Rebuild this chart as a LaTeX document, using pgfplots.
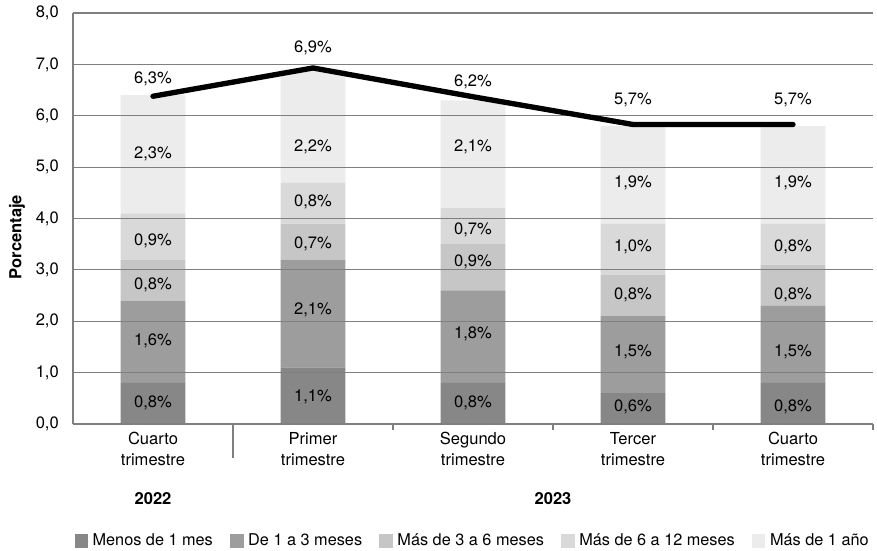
\documentclass[border=0pt]{standalone}
\usepackage{fontspec}
\setmainfont{TeX Gyre Heros}
\usepackage{pgfplots}
\usepackage{pgfplotstable}
\pgfplotsset{compat=1.18}
\definecolor{c1}{HTML}{878787}
\definecolor{c2}{HTML}{9D9D9D}
\definecolor{c3}{HTML}{C6C6C6}
\definecolor{c4}{HTML}{D9D9D9}
\definecolor{c5}{HTML}{ECECEC}
\definecolor{gridc}{HTML}{7F7F7F}
\newcommand\f{\fontsize{12.4pt}{15.75pt}\selectfont}

\pgfplotstableread{
x a b c d e
0 0.8 1.6 0.8 0.9 2.3
1 1.1 2.1 0.7 0.8 2.2
2 0.8 1.8 0.9 0.7 2.1
3 0.6 1.5 0.8 1.0 1.9
4 0.8 1.5 0.8 0.8 1.9
}\bars

\pgfplotstableread{
x y
0 6.38
1 6.93
2 6.37
3 5.83
4 5.83
}\linedata

\pgfplotstableread{
x y v
0 0.41 0.8
0 1.62 1.6
0 2.71 0.8
0 3.56 0.9
0 5.26 2.3
0 6.72 6.3
1 0.53 1.1
1 2.22 2.1
1 3.50 0.7
1 4.32 0.8
1 5.40 2.2
1 7.32 6.9
2 0.41 0.8
2 1.75 1.8
2 3.15 0.9
2 3.78 0.7
2 5.40 2.1
2 6.66 6.2
3 0.33 0.6
3 1.40 1.5
3 2.51 0.8
3 3.45 1.0
3 4.69 1.9
3 6.31 5.7
4 0.33 0.8
4 1.40 1.5
4 2.51 0.8
4 3.45 0.8
4 4.69 1.9
4 6.31 5.7
}\labels

\begin{document}
\begin{tikzpicture}
\path[use as bounding box] (0,0) rectangle (657.75pt,412.5pt);
\begin{axis}[
  ybar stacked,
  every axis plot/.append style={draw=none, legend image code/.code={\fill[##1] (0pt,-5pt) rectangle (10pt,5pt); \path (0pt,0pt) -- (11.5pt,0pt);}},
  at={(54.75pt,94.5pt)}, anchor=south west,
  scale only axis, width=600pt, height=308.25pt,
  xmin=-0.5, xmax=4.5, ymin=0, ymax=8,
  bar width=0.406,
  clip=false,
  axis on top,
  axis lines*=left,
  axis line style={gridc, line width=0.8pt},
  ytick={0,1,...,8},
  ymajorgrids, grid style={gridc, line width=0.8pt},
  yticklabel={\pgfmathprintnumber[fixed,fixed zerofill,precision=1,use comma,assume math mode=true]{\tick}},
  yticklabel style={font=\f, inner sep=0pt, xshift=-6pt},
  ytick style={draw=none},
  xtick={0.5,1.5,2.5,3.5,4.5},
  xticklabels={},
  xtick style={gridc, line width=0.8pt},
  major tick length=4.5pt,
  tick align=outside,
  extra x ticks={0,1,2,3,4},
  extra x tick labels={{Cuarto\\trimestre},{Primer\\trimestre},{Segundo\\trimestre},{Tercer\\trimestre},{Cuarto\\trimestre}},
  extra x tick style={major tick length=0pt, grid=none, xticklabel style={font=\f, align=center, inner sep=0pt, yshift=-6pt}},
  ylabel={Porcentaje},
  every axis y label/.style={at={(axis description cs:0,0.455)}, xshift=-42pt, rotate=90, anchor=center, font=\fontsize{12.4pt}{14pt}\selectfont\bfseries},
  legend columns=5,
  legend style={at={(0.5,-0.2847)}, anchor=center, draw=none, fill=none, font=\fontsize{12.2pt}{15pt}\selectfont,
    /tikz/every even column/.append style={column sep=11pt}},
  legend cell align=left,
]
\addplot[fill=c1] table[x=x,y=a]{\bars};
\addplot[fill=c2] table[x=x,y=b]{\bars};
\addplot[fill=c3] table[x=x,y=c]{\bars};
\addplot[fill=c4] table[x=x,y=d]{\bars};
\addplot[fill=c5] table[x=x,y=e]{\bars};
\legend{Menos de 1 mes, De 1 a 3 meses, Más de 3 a 6 meses, Más de 6 a 12 meses, Más de 1 año}
\draw[gridc, line width=0.8pt] (axis cs:0.5,0) -- ++(0pt,-25.5pt);
\node[font=\f\bfseries, anchor=center] at ([yshift=-56.25pt]axis cs:0,0) {2022};
\node[font=\f\bfseries, anchor=center] at ([yshift=-56.25pt]axis cs:2.5,0) {2023};
\end{axis}
\begin{axis}[
  at={(54.75pt,94.5pt)}, anchor=south west,
  scale only axis, width=600pt, height=308.25pt,
  xmin=-0.5, xmax=4.5, ymin=0, ymax=8,
  axis lines=none, clip=false,
]
\addplot[black, line width=4pt, line cap=round, line join=round, mark=none] table[x=x,y=y]{\linedata};
\addplot[draw=none, mark=none, point meta=explicit,
  nodes near coords={\pgfmathprintnumber[fixed,fixed zerofill,precision=1,use comma,assume math mode=true]{\pgfplotspointmeta}\%},
  every node near coord/.append style={anchor=center, font=\f, inner sep=0pt}]
  table[x=x,y=y,meta=v]{\labels};
\end{axis}
\end{tikzpicture}
\end{document}
